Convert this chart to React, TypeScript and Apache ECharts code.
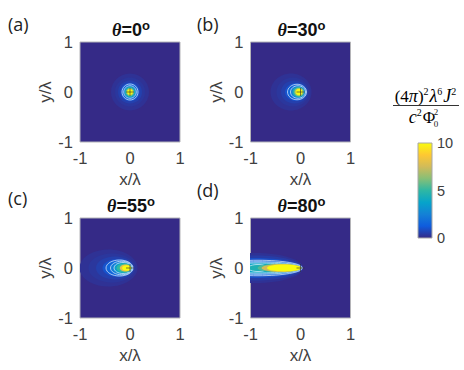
import React, { useEffect, useRef } from "react";
import * as echarts from "echarts";

// [cx, cy, rx, ry, level, contour(1 = white line)]
const bandsA = [
  [0, 0, 0.38, 0.37, 0.2, 0], [0, 0, 0.3, 0.29, 0.32, 0], [0, 0, 0.24, 0.23, 0.55, 0],
  [0, 0, 0.19, 0.185, 1.0, 0], [0, 0, 0.16, 0.16, 1.7, 1], [0, 0, 0.125, 0.125, 2.4, 1],
  [0, 0, 0.105, 0.105, 4.5, 0], [0, 0, 0.08, 0.08, 6.5, 0], [0, 0, 0.06, 0.06, 10, 0],
];
const bandsB = [
  [-0.19, 0, 0.41, 0.37, 0.2, 0], [-0.15, 0, 0.33, 0.29, 0.32, 0], [-0.12, 0, 0.27, 0.23, 0.55, 0],
  [-0.09, 0, 0.22, 0.18, 1.0, 0], [-0.07, 0, 0.19, 0.155, 1.7, 1], [-0.05, 0, 0.15, 0.125, 2.4, 1],
  [-0.04, 0, 0.12, 0.105, 4.5, 0], [-0.03, 0, 0.095, 0.085, 6.5, 0], [-0.03, 0, 0.07, 0.065, 10, 0],
];
const bandsC = [
  [-0.43, 0, 0.58, 0.37, 0.2, 0], [-0.36, 0, 0.47, 0.29, 0.32, 0], [-0.3, 0, 0.38, 0.23, 0.55, 0],
  [-0.24, 0, 0.31, 0.18, 1.0, 0], [-0.21, 0, 0.27, 0.16, 1.6, 1], [-0.17, 0, 0.22, 0.135, 2.4, 1],
  [-0.14, 0, 0.18, 0.11, 3.5, 1], [-0.12, 0, 0.15, 0.09, 5, 0], [-0.09, 0, 0.115, 0.07, 8, 0], [-0.07, 0, 0.09, 0.055, 10, 0],
];
const bandsD = [
  [-0.9, 0, 0.95, 0.3, 0.2, 0], [-0.9, 0, 0.94, 0.25, 0.45, 0], [-0.9, 0, 0.93, 0.2, 0.9, 0],
  [-0.85, 0, 0.89, 0.155, 1.6, 1], [-0.85, 0, 0.87, 0.125, 2.6, 1], [-0.85, 0, 0.85, 0.1, 3.8, 1],
  [-0.85, 0, 0.2, 0.07, 4.5, 1], [-0.42, 0, 0.44, 0.085, 5.5, 0], [-0.38, 0, 0.4, 0.08, 7.5, 0], [-0.33, 0, 0.34, 0.068, 10, 0],
];
const panels = [
  { title: "0", tag: "(a)", bands: bandsA },
  { title: "30", tag: "(b)", bands: bandsB },
  { title: "55", tag: "(c)", bands: bandsC },
  { title: "80", tag: "(d)", bands: bandsD },
];
const axisTicks = [-1, 0, 1];
const origin = [[0, 0]];
const colorbarRange = [[0, 10]];
const parula = ["#352a87", "#0f5cdd", "#1481d6", "#06a4ca", "#2eb7a4", "#87bf77", "#d1bb59", "#fec832", "#f9fb0e"];

const frames = [
  { left: 80, top: 42 }, { left: 250.5, top: 42 },
  { left: 80, top: 218 }, { left: 250.5, top: 218 },
];
const tags = [[8, 15], [197, 15], [8, 189], [197, 181]];
const SIZE = 100;
const inkGray = "#404040";
const sans = "'Liberation Sans', Arial, sans-serif";
const serif = "'Liberation Serif', serif";

function renderBand(_: any, api: any) {
  const c = api.coord([api.value(0), api.value(1)]);
  const s = api.size([api.value(2), api.value(3)]);
  const line = api.value(5) === 1;
  return {
    type: "ellipse",
    shape: { cx: c[0], cy: c[1], rx: s[0], ry: s[1] },
    style: { fill: api.visual("color"), stroke: line ? "rgba(235,245,255,0.85)" : "none", lineWidth: line ? 0.8 : 0 },
  };
}

function renderBar(params: any, api: any) {
  const lo = api.coord([0, api.value(0)]);
  const hi = api.coord([0, api.value(1)]);
  const cs = params.coordSys;
  return {
    type: "rect",
    shape: { x: cs.x, y: hi[1], width: cs.width, height: lo[1] - hi[1] },
    style: {
      fill: new echarts.graphic.LinearGradient(0, 1, 0, 0, parula.map((color, i) => ({ offset: i / (parula.length - 1), color }))),
      stroke: "#a8a8a8",
      lineWidth: 1,
    },
  };
}

const mathRich = {
  u: { fontFamily: serif, fontSize: 17, color: "#222" },
  i: { fontFamily: serif, fontStyle: "italic", fontSize: 18, color: "#222" },
  s: { fontFamily: serif, fontSize: 10, color: "#222", padding: [0, 1, 9, 0] },
};
const scriptFont = "9px 'Liberation Serif', serif";

export default function App() {
  const ref = useRef<HTMLDivElement>(null);
  useEffect(() => {
    const chart = echarts.init(ref.current!, undefined, { renderer: "svg" });
    const grid: any[] = frames.map((f) => ({
      left: f.left, top: f.top, width: SIZE, height: SIZE, show: true,
      backgroundColor: parula[0], borderColor: "#b4b4b8", borderWidth: 1,
    }));
    grid.push({ left: 418, top: 143, width: 14, height: 95 });
    const xAxis: any[] = frames.map((_, i) => ({
      gridIndex: i, type: "value", min: -1, max: 1, interval: 1, name: "x/λ", nameLocation: "middle", nameGap: 29,
      nameTextStyle: { fontFamily: sans, fontSize: 17, color: inkGray },
      axisLabel: { color: inkGray, fontFamily: sans, fontSize: 16.5, margin: 7, formatter: (v: number) => (axisTicks.includes(v) ? String(v) : "") },
      axisLine: { show: false }, axisTick: { show: false }, splitLine: { show: false },
    }));
    xAxis.push({ gridIndex: 4, type: "value", min: 0, max: 1, show: false });
    const yAxis: any[] = frames.map((_, i) => ({
      gridIndex: i, type: "value", min: -1, max: 1, interval: 1, name: "y/λ", nameLocation: "middle", nameGap: 23,
      nameTextStyle: { fontFamily: sans, fontSize: 17, color: inkGray },
      axisLabel: { color: inkGray, fontFamily: sans, fontSize: 16.5, margin: 7 },
      axisLine: { show: false }, axisTick: { show: false }, splitLine: { show: false },
    }));
    yAxis.push({
      gridIndex: 4, type: "value", min: 0, max: 10, interval: 5, position: "right",
      axisLabel: { color: inkGray, fontFamily: sans, fontSize: 14.5, margin: 5 },
      axisLine: { show: false }, axisTick: { show: false }, splitLine: { show: false },
    });
    const series: any[] = [];
    panels.forEach((p, i) => {
      series.push({
        type: "custom", xAxisIndex: i, yAxisIndex: i, clip: true, data: p.bands,
        renderItem: renderBand, encode: { x: 0, y: 1 }, silent: true,
      });
    });
    const bandSeries = series.map((_, i) => i);
    panels.forEach((_, i) => {
      series.push({
        type: "scatter", xAxisIndex: i, yAxisIndex: i, data: origin, symbol: "path://M0 5H10M5 0V10", symbolSize: 8,
        itemStyle: { color: "none", borderColor: "#333", borderWidth: 0.8 }, silent: true, z: 5,
      });
    });
    series.push({
      type: "custom", xAxisIndex: 4, yAxisIndex: 4, data: colorbarRange, renderItem: renderBar,
      encode: { y: [0, 1] }, silent: true,
    });
    const graphic: any[] = panels.map((p, i) => ({
      type: "text", x: tags[i][0], y: tags[i][1],
      style: { text: p.tag, font: "18px 'Open Sans', sans-serif", fill: "#222" },
    }));
    graphic.push(
      {
        type: "text", x: 426, y: 96,
        style: {
          text: "{u|(4}{i|π}{u|)}{s|2}{i|λ}{s|6}{i|J}{s|2}",
          align: "center", verticalAlign: "middle", rich: mathRich,
        },
      },
      { type: "line", shape: { x1: 393, y1: 105.5, x2: 459, y2: 105.5 }, style: { stroke: "#333", lineWidth: 1 } },
      {
        type: "text", x: 422, y: 117,
        style: {
          text: "{i|c}{s|2}{u|Φ}",
          align: "center", verticalAlign: "middle", rich: mathRich,
        },
      },
      { type: "text", x: 436, y: 112, style: { text: "2", font: scriptFont, fill: "#222", align: "center", verticalAlign: "middle" } },
      { type: "text", x: 436, y: 124, style: { text: "0", font: scriptFont, fill: "#222", align: "center", verticalAlign: "middle" } },
    );
    chart.setOption({
      animation: false,
      backgroundColor: "#ffffff",
      grid, xAxis, yAxis, series, graphic,
      title: panels.map((p, i) => ({
        text: `{t|θ}{b|=${p.title}}{s|o}`,
        left: frames[i].left + SIZE / 2 - 4,
        top: frames[i].top - 28,
        textAlign: "center",
        textStyle: {
          rich: {
            t: { fontFamily: serif, fontStyle: "italic", fontSize: 18, color: "#111" },
            b: { fontFamily: sans, fontWeight: "bold", fontSize: 18, color: "#111" },
            s: { fontFamily: sans, fontWeight: "bold", fontSize: 13, color: "#111", padding: [0, 0, 9, 0] },
          },
        },
      })),
      visualMap: {
        show: false, type: "continuous", min: 0, max: 10, dimension: 4, seriesIndex: bandSeries,
        inRange: { color: parula },
      },
    });
    return () => chart.dispose();
  }, []);
  return <div ref={ref} style={{ position: "absolute", left: 0, top: 0, width: 464, height: 370 }} />;
}
